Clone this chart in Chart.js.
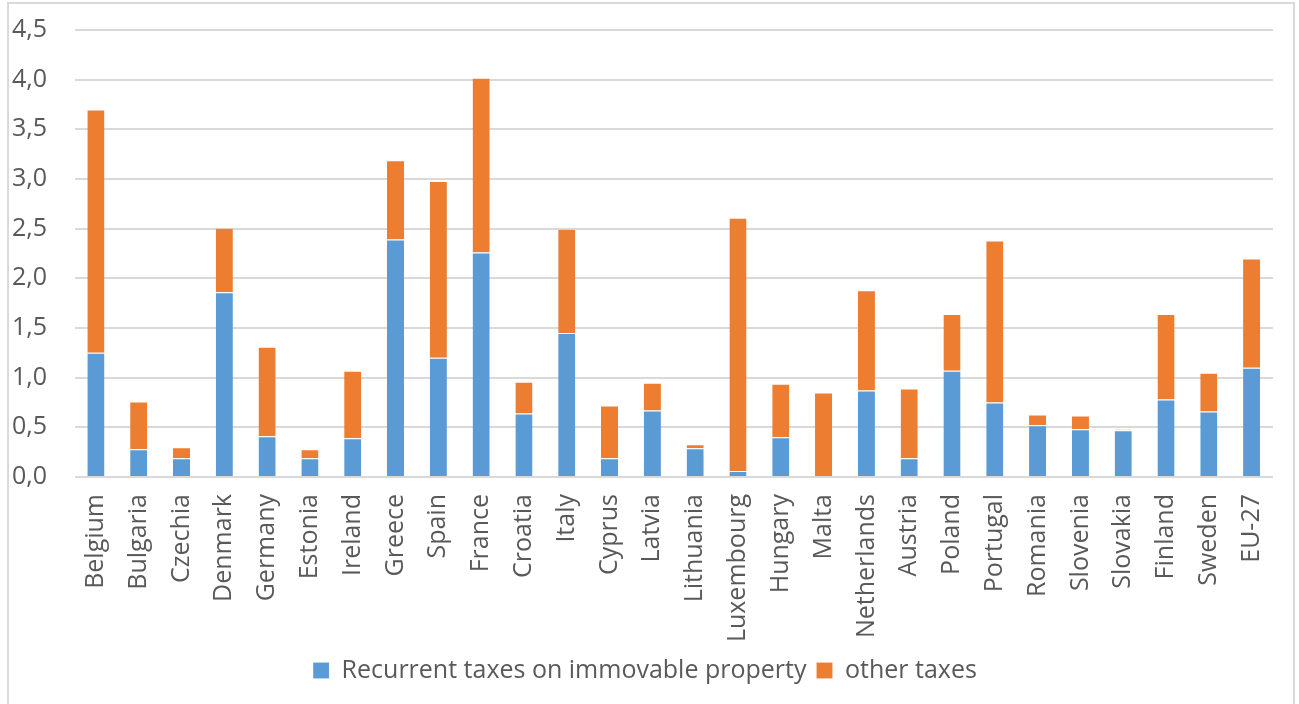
<!DOCTYPE html>
<html>
<head>
<meta charset="utf-8">
<script src="https://cdn.jsdelivr.net/npm/chart.js@4"></script>
<style>
    html, body { margin: 0; padding: 0; background: #fff; }
    #wrap { position: relative; width: 1299px; height: 704px; overflow: hidden; }
    #frame {
        position: absolute; left: 7px; top: 2px; width: 1288px; height: 760px;
        border: 2px solid #d9d9d9; box-sizing: border-box;
    }
    #chart { position: absolute; left: 0; top: 0; }
</style>
</head>
<body>
<div id="wrap">
    <div id="frame"></div>
    <canvas id="chart" width="1299" height="704"></canvas>
</div>
<script>
    const countries = ['Belgium', 'Bulgaria', 'Czechia', 'Denmark', 'Germany', 'Estonia', 'Ireland',
        'Greece', 'Spain', 'France', 'Croatia', 'Italy', 'Cyprus', 'Latvia', 'Lithuania',
        'Luxembourg', 'Hungary', 'Malta', 'Netherlands', 'Austria', 'Poland', 'Portugal',
        'Romania', 'Slovenia', 'Slovakia', 'Finland', 'Sweden', 'EU-27'];

    // % of GDP
    const recurrentTaxes = [1.25, 0.28, 0.19, 1.86, 0.41, 0.19, 0.39, 2.39, 1.20, 2.26, 0.64, 1.45,
        0.19, 0.67, 0.29, 0.06, 0.40, 0.00, 0.87, 0.19, 1.07, 0.75, 0.52, 0.48, 0.47, 0.78, 0.66, 1.10];
    const otherTaxes = [2.45, 0.48, 0.11, 0.65, 0.90, 0.09, 0.68, 0.80, 1.78, 1.76, 0.32, 1.05,
        0.53, 0.28, 0.04, 2.55, 0.54, 0.85, 1.01, 0.70, 0.57, 1.63, 0.11, 0.14, 0.01, 0.86, 0.39, 1.10];

    const yMin = 0;
    const yMax = 4.5;
    const yStep = 0.5;

    const textColor = '#595959';
    const gridColor = '#d9d9d9';
    const font = { family: "'Open Sans'", size: 25 };

    const ctx = document.getElementById('chart').getContext('2d');
    new Chart(ctx, {
        type: 'bar',
        data: {
            labels: countries,
            datasets: [
                {
                    label: 'Recurrent taxes on immovable property',
                    data: recurrentTaxes,
                    backgroundColor: '#5b9bd5',
                    borderColor: 'rgba(255,255,255,0.6)',
                    borderWidth: { top: 1 },
                    borderSkipped: false
                },
                {
                    label: 'other taxes',
                    data: otherTaxes,
                    backgroundColor: '#ed7d31',
                    borderColor: 'rgba(255,255,255,0.5)',
                    borderWidth: { top: 1 },
                    borderSkipped: false
                }
            ]
        },
        options: {
            responsive: false,
            animation: false,
            layout: { padding: { top: 30, left: 12, right: 21, bottom: 11 } },
            datasets: {
                bar: { barPercentage: 0.4, categoryPercentage: 1 }
            },
            scales: {
                x: {
                    stacked: true,
                    grid: { display: false, drawTicks: false },
                    border: { display: false },
                    ticks: {
                        color: textColor,
                        font: font,
                        minRotation: 90,
                        maxRotation: 90,
                        autoSkip: false,
                        padding: 17
                    },
                    afterFit: (scale) => { scale.height = 171; }
                },
                y: {
                    stacked: true,
                    min: yMin,
                    max: yMax,
                    grid: { color: gridColor, lineWidth: 2, drawTicks: false },
                    border: { display: false },
                    ticks: {
                        stepSize: yStep,
                        color: textColor,
                        font: font,
                        padding: 3,
                        crossAlign: 'far',
                        callback: (v) => v.toFixed(1).replace('.', ',')
                    },
                    afterFit: (scale) => { scale.width = 62.5; }
                }
            },
            plugins: {
                legend: {
                    position: 'bottom',
                    labels: {
                        color: textColor,
                        font: font,
                        boxWidth: 16,
                        boxHeight: 16,
                        padding: 10
                    }
                },
                tooltip: { enabled: false }
            }
        }
    });
</script>
</body>
</html>
